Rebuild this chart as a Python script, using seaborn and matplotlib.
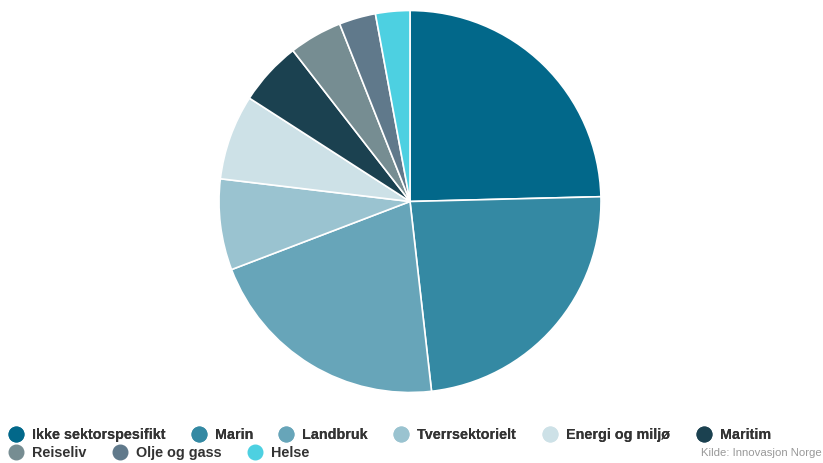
import matplotlib
matplotlib.use("Agg")
import matplotlib.pyplot as plt
from matplotlib.lines import Line2D
import seaborn as sns

# Andel per sektor (prosent)
sectors = ["Ikke sektorspesifikt", "Marin", "Landbruk", "Tverrsektorielt",
           "Energi og miljø", "Maritim", "Reiseliv", "Olje og gass", "Helse"]
shares = [24.6, 23.6, 21.0, 7.7, 7.2, 5.4, 4.5, 3.1, 2.9]
colors = ["#02688a", "#3489a3", "#67a5b9", "#9ac3d0", "#cde1e7",
          "#1b4150", "#768d92", "#60798b", "#4dd0e1"]
source_text = "Kilde: Innovasjon Norge"

sns.set_theme(style="white")
plt.rcParams["font.family"] = ["Liberation Sans", "DejaVu Sans"]
palette = sns.color_palette(colors)

W, H = 823, 463
fig = plt.figure(figsize=(W / 100, H / 100), dpi=100)
fig.patch.set_facecolor("white")

cx, cy, r = 410, 201.5, 191
ax = fig.add_axes([(cx - r) / W, (H - cy - r) / H, 2 * r / W, 2 * r / H])
ax.pie(shares, colors=palette, startangle=90, counterclock=False,
       radius=1, wedgeprops=dict(edgecolor="white", linewidth=1.2))
ax.set_xlim(-1, 1)
ax.set_ylim(-1, 1)
ax.set_aspect("equal")
ax.axis("off")

fs = 10.4
px = fs * 100 / 72
handles = [Line2D([], [], linestyle="none", marker="o", markersize=10.5,
                  markerfacecolor=c, markeredgecolor=c) for c in palette]


def legend_row(idx, ypix):
    leg = fig.legend([handles[i] for i in idx], [sectors[i] for i in idx],
                     loc="center left", bbox_to_anchor=(9.75 / W, 1 - ypix / H),
                     ncol=len(idx), frameon=False,
                     handlelength=12.5 / px, handletextpad=9.75 / px,
                     columnspacing=27 / px,
                     borderpad=0, borderaxespad=0,
                     prop=dict(family=["Liberation Sans", "DejaVu Sans"],
                               weight="bold", size=fs))
    for t in leg.get_texts():
        t.set_color("#333333")
    return leg


leg1 = legend_row(range(0, 6), 435)
fig.add_artist(leg1)
legend_row(range(6, 9), 453)

fig.text(822 / W, 1 - 453 / H, source_text, ha="right", va="center",
         fontsize=8.2, color="#999999")

fig.savefig("out.png", dpi=100, facecolor="white")
